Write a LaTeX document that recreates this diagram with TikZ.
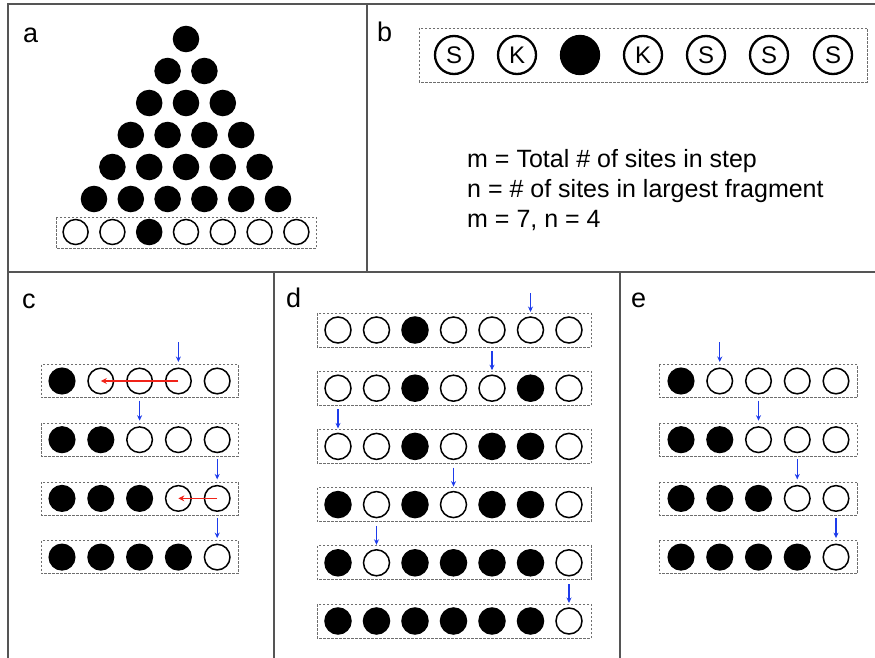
\documentclass[tikz,border=0pt]{standalone}
\usepackage{fontspec}
\setmainfont{Liberation Sans}
\usetikzlibrary{arrows.meta}
\definecolor{framegray}{RGB}{85,85,85}
\definecolor{boxgray}{RGB}{110,110,110}
\definecolor{arrblue}{RGB}{30,60,235}
\definecolor{arrred}{RGB}{240,35,25}
\tikzset{
  frameline/.style={draw=framegray,line width=1.2pt},
  rowbox/.style={draw=boxgray,dashed,dash pattern=on 2.5pt off 1.5pt,line width=0.8pt},
  opensite/.style={circle,draw=black,line width=1.5pt,fill=white,inner sep=0pt,minimum size=#1},
  fullsite/.style={circle,draw=black,line width=1.5pt,fill=black,inner sep=0pt,minimum size=#1},
  bigopen/.style={circle,draw=black,line width=2.3pt,fill=white,inner sep=0pt,minimum size=38pt,font=\fontsize{24}{26}\selectfont},
  bigfull/.style={circle,draw=black,line width=2.3pt,fill=black,inner sep=0pt,minimum size=38pt},
  panellabel/.style={anchor=base west,inner sep=0pt,font=\fontsize{27}{30}\selectfont},
  bluearr/.style={draw=arrblue,line width=1.2pt,-{Stealth[length=5.5pt,width=5pt]}},
  redarr/.style={draw=arrred,line width=1.3pt,-{Stealth[length=6pt,width=6pt,inset=2pt]}},
  bodytext/.style={anchor=base west,inner sep=0pt,font=\fontsize{25}{28}\selectfont}
}
\begin{document}
\begin{tikzpicture}[x=1pt,y=-1pt]
\useasboundingbox (0,0) rectangle (875,658);
\fill[white] (0,0) rectangle (875,658);
% frames
\draw[frameline] (8,658) -- (8,4) -- (875,4);
\draw[frameline] (8,272) -- (875,272);
\draw[frameline] (367,4) -- (367,272);
\draw[frameline] (274,272) -- (274,658);
\draw[frameline] (620,272) -- (620,658);
% labels
\node[panellabel] (la) at (23,43) {a};
\node[panellabel] (lb) at (377,42) {b};
\node[panellabel] (lc) at (22,308) {c};
\node[panellabel] (ld) at (286,307) {d};
\node[panellabel] (le) at (631,307) {e};
% ---------------- panel a
\foreach \k in {0,...,5}{
  \foreach \i in {0,...,\k}{
    \node[fullsite=25pt] (a-\k-\i) at ({186+(\i-\k/2)*36.8},{39+32*\k}) {};
  }
}
\draw[rowbox] (56,217) rectangle (316,248);
\foreach \i in {0,...,6}{
  \ifnum\i=2
    \node[fullsite=25pt] (a-6-\i) at ({186+(\i-3)*36.8},232) {};
  \else
    \node[opensite=25pt] (a-6-\i) at ({186+(\i-3)*36.8},232) {};
  \fi
}
% ---------------- panel b
\draw[rowbox] (419,28) rectangle (867,82);
\node[bigopen] (b1) at (454,55) {S};
\node[bigopen] (b2) at (517,55) {K};
\node[bigfull] (b3) at (580,55) {};
\node[bigopen] (b4) at (643,55) {K};
\node[bigopen] (b5) at (706,55) {S};
\node[bigopen] (b6) at (769,55) {S};
\node[bigopen] (b7) at (833,55) {S};
\node[bodytext] (t1) at (467,167) {m = Total \# of sites in step};
\node[bodytext] (t2) at (467,197) {n = \# of sites in largest fragment};
\node[bodytext] (t3) at (467,227) {m = 7, n = 4};
% ---------------- panel c
\foreach \j/\nb/\ar in {1/1/4,2/2/3,3/3/5,4/4/5}{
  \pgfmathsetmacro{\yy}{381+58.7*(\j-1)}
  \draw[rowbox] (41,\yy-16.5) rectangle (238,\yy+16.5);
  \foreach \i in {1,...,5}{
    \ifnum\i>\nb
      \node[opensite=25.6pt] (c-\j-\i) at ({62+38.8*(\i-1)},\yy) {};
    \else
      \node[fullsite=25.6pt] (c-\j-\i) at ({62+38.8*(\i-1)},\yy) {};
    \fi
  }
  \draw[bluearr] ([yshift=39pt]c-\j-\ar.center) -- ([yshift=19pt]c-\j-\ar.center);
}
\draw[redarr] (c-1-4.center) -- (c-1-2.center);
\draw[redarr] (c-3-5.center) -- (c-3-4.center);
% ---------------- panel d
\foreach \j/\pat/\ar in {1/{0,0,1,0,0,0,0}/6,2/{0,0,1,0,0,1,0}/5,3/{0,0,1,0,1,1,0}/1,4/{1,0,1,0,1,1,0}/4,5/{1,0,1,1,1,1,0}/2,6/{1,1,1,1,1,1,0}/7}{
  \pgfmathsetmacro{\yy}{330+58.2*(\j-1)}
  \draw[rowbox] (317,\yy-17) rectangle (591,\yy+17);
  \foreach \i in {1,...,7}{
    \pgfmathtruncatemacro{\bit}{{\pat}[\i-1]}
    \ifnum\bit=1
      \node[fullsite=26pt] (d-\j-\i) at ({338+38.5*(\i-1)},\yy) {};
    \else
      \node[opensite=26pt] (d-\j-\i) at ({338+38.5*(\i-1)},\yy) {};
    \fi
  }
  \draw[bluearr] ([yshift=37pt]d-\j-\ar.center) -- ([yshift=18pt]d-\j-\ar.center);
}
% ---------------- panel e
\foreach \j/\nb/\ar in {1/1/2,2/2/3,3/3/4,4/4/5}{
  \pgfmathsetmacro{\yy}{381+58.7*(\j-1)}
  \draw[rowbox] (659,\yy-16.5) rectangle (857,\yy+16.5);
  \foreach \i in {1,...,5}{
    \ifnum\i>\nb
      \node[opensite=25.6pt] (e-\j-\i) at ({681+38.75*(\i-1)},\yy) {};
    \else
      \node[fullsite=25.6pt] (e-\j-\i) at ({681+38.75*(\i-1)},\yy) {};
    \fi
  }
  \draw[bluearr] ([yshift=39pt]e-\j-\ar.center) -- ([yshift=19pt]e-\j-\ar.center);
}
\end{tikzpicture}
\end{document}
